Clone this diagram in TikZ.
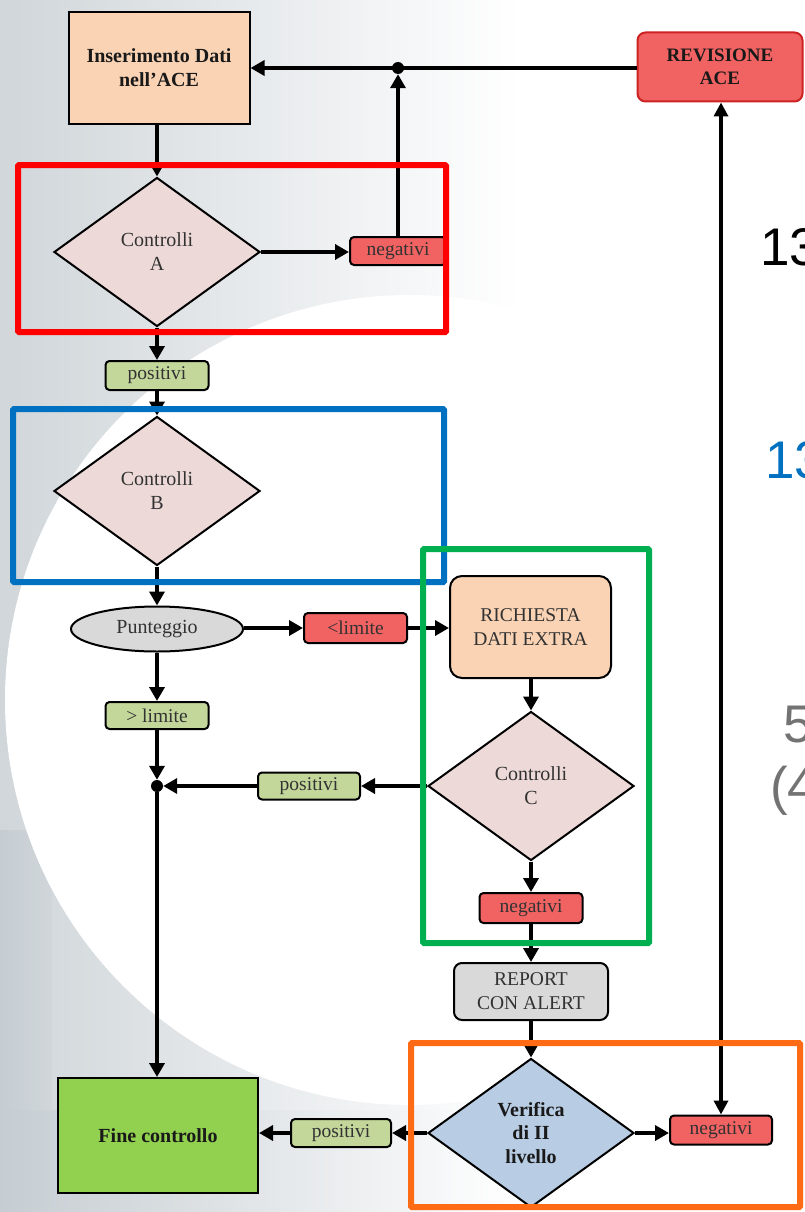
\documentclass[tikz,border=0pt]{standalone}
\usepackage{fontspec}
\setmainfont{Liberation Serif}
\newfontfamily\numfont{Liberation Sans}
\usetikzlibrary{shapes.geometric,arrows.meta}
\definecolor{bgL}{RGB}{208,214,218}
\definecolor{bgD}{RGB}{198,205,210}
\definecolor{peach}{RGB}{250,211,180}
\definecolor{diafill}{RGB}{237,218,216}
\definecolor{redfill}{RGB}{241,98,98}
\definecolor{revdraw}{RGB}{205,35,35}
\definecolor{greenfill}{RGB}{196,215,155}
\definecolor{grayfill}{RGB}{217,217,217}
\definecolor{finefill}{RGB}{146,208,80}
\definecolor{verfill}{RGB}{184,204,228}
\definecolor{txt}{RGB}{50,50,50}
\definecolor{fred}{RGB}{255,0,0}
\definecolor{fblue}{RGB}{0,112,192}
\definecolor{fgreen}{RGB}{0,176,80}
\definecolor{forange}{RGB}{255,106,20}
\definecolor{numblue}{RGB}{0,112,192}
\definecolor{numgray}{RGB}{115,115,115}
\tikzset{
  box/.style={draw=black, line width=2pt, inner sep=0pt, align=center,
    font=\fontsize{20}{24}\selectfont, text=txt},
  boldbox/.style={box, font=\fontsize{20}{24}\selectfont\bfseries, text=black!90},
  lab/.style={box, rounded corners=4pt, font=\fontsize{19.5}{22}\selectfont},
  dia/.style={box, diamond, minimum width=206pt, minimum height=149pt, fill=diafill},
  arr/.style={line width=4.5pt, -{Triangle[length=14pt,width=15pt]}},
  dblarr/.style={line width=4pt, {Triangle[length=14pt,width=14pt]}-{Triangle[length=14pt,width=14pt]}},
  frame/.style={line width=6pt, rounded corners=1pt},
  dotn/.style={circle, fill=black, inner sep=0pt, minimum size=12pt},
  num/.style={anchor=base west, inner sep=0pt, font=\numfont\fontsize{53}{60}\selectfont}
}
\begin{document}
\begin{tikzpicture}[x=1pt,y=-1pt]
\useasboundingbox (0,0) rectangle (804,1212);
\clip (0,0) rectangle (804,1212);
% background
\fill[white] (0,0) rectangle (804,1212);
\fill[left color=bgL, right color=white] (0,0) rectangle (520,1212);
\fill[left color=bgD, right color=bgL] (0,830) rectangle (52,1110);
\fill[left color=bgD, right color=white] (0,1110) rectangle (520,1212);
\fill[white] (410,700) circle[radius=405pt];

% nodes
\node[boldbox, fill=peach, minimum width=181pt, minimum height=112pt] (ins) at (159,68) {Inserimento Dati\\nell’ACE};
\node[boldbox, fill=redfill, draw=revdraw, rounded corners=8pt, minimum width=165pt, minimum height=69pt, font=\fontsize{19}{23}\selectfont\bfseries] (rev) at (720,67) {REVISIONE\\ACE};
\node[dotn] (dot1) at (398,68) {};
\node[dia] (dA) at (157,252) {Controlli\\A};
\node[lab, fill=redfill, minimum width=96pt, minimum height=28pt] (negA) at (398,251) {negativi};
\node[lab, fill=greenfill, minimum width=103pt, minimum height=29pt] (posA) at (157,375.5) {positivi};
\node[dia] (dB) at (157,491) {Controlli\\B};
\node[box, ellipse, fill=grayfill, minimum width=172pt, minimum height=45pt] (pun) at (157,629) {Punteggio};
\node[lab, fill=redfill, minimum width=103pt, minimum height=30pt] (lim) at (355.5,628) {<limite};
\node[box, fill=peach, rounded corners=12pt, minimum width=161pt, minimum height=102pt, font=\fontsize{19.5}{24}\selectfont] (rich) at (530.5,627) {RICHIESTA\\DATI EXTRA};
\node[lab, fill=greenfill, minimum width=103pt, minimum height=27pt] (gtl) at (157,715.5) {> limite};
\node[dia] (dC) at (531,786) {Controlli\\C};
\node[lab, fill=greenfill, minimum width=102pt, minimum height=27pt] (posC) at (309,786) {positivi};
\node[dotn] (dot2) at (157,786) {};
\node[lab, fill=redfill, minimum width=103pt, minimum height=30pt] (negC) at (531,908) {negativi};
\node[box, fill=grayfill, rounded corners=8pt, minimum width=154pt, minimum height=57pt, font=\fontsize{19.5}{24}\selectfont] (rep) at (531,991.5) {REPORT\\CON ALERT};
\node[dia, fill=verfill, font=\fontsize{20}{23.5}\selectfont\bfseries, text=black!90] (dV) at (531,1133) {Verifica\\di II\\livello};
\node[lab, fill=redfill, minimum width=102pt, minimum height=29pt] (negV) at (721,1130) {negativi};
\node[lab, fill=greenfill, minimum width=100pt, minimum height=28pt] (posV) at (341,1133) {positivi};
\node[boldbox, fill=finefill, minimum width=200pt, minimum height=115pt] (fine) at (158,1135.5) {Fine controllo};

% connectors
\draw[arr] (rev.west |- dot1) -- (ins.east |- dot1);
\draw[arr] (negA.north -| dot1) -- (dot1.south);
\draw[arr] (ins.south -| dA) -- (dA.north);
\draw[arr] (dA.east) -- (negA.west |- dA.east);
\draw[arr] (dA.south) -- (posA.north);
\draw[arr] (posA.south) -- (dB.north);
\draw[arr] (dB.south) -- (pun.north);
\draw[arr] (pun.east |- lim) -- (lim.west);
\draw[arr] (lim.east) -- (rich.west |- lim);
\draw[arr] (pun.south) -- (gtl.north);
\draw[arr] (gtl.south) -- (dot2.north);
\draw[arr] (rich.south -| dC) -- (dC.north);
\draw[arr] (dC.west) -- (posC.east);
\draw[arr] (posC.west) -- (dot2.east);
\draw[arr] (dot2.south) -- (fine.north -| dot2);
\draw[arr] (dC.south) -- (negC.north -| dC);
\draw[arr] (negC.south -| dC) -- (rep.north -| dC);
\draw[arr] (rep.south -| dV) -- (dV.north);
\draw[arr] (dV.west) -- (posV.east |- dV.west);
\draw[arr] (posV.west |- dV.west) -- (fine.east |- dV.west);
\draw[arr] (dV.east) -- (negV.west |- dV.east);
\draw[dblarr] (negV.north) -- (rev.south -| negV);

% highlight frames
\draw[frame, fred] (18,165) rectangle (446,332);
\draw[frame, fblue] (13,409) rectangle (444,582);
\draw[frame, fgreen] (423,549) rectangle (649,943);
\draw[frame, forange] (411,1043) rectangle (800,1207);

% partially visible numbers on the right (cut by the edge, as in the reference)
\node[num, text=black] (n1) at (760,265) {13};
\node[num, text=numblue] (n2) at (765,478) {13};
\node[num, text=numgray] (n3) at (783,742) {5};
\node[num, text=numgray] (n4) at (770,804) {(4};
\end{tikzpicture}
\end{document}
